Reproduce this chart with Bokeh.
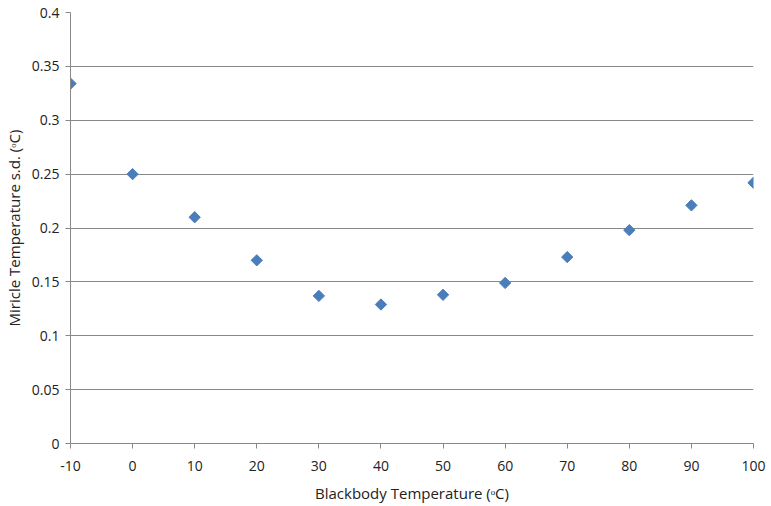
import math
from bokeh.plotting import figure
from bokeh.embed import file_html
from bokeh.resources import INLINE
from bokeh.models import Range1d, FixedTicker

blackbody_temp = [-10, 0, 10, 20, 30, 40, 50, 60, 70, 80, 90, 100]
miricle_sd = [0.334, 0.250, 0.210, 0.170, 0.137, 0.129, 0.138, 0.149, 0.173, 0.198, 0.221, 0.242]
x_ticks = [-10, 0, 10, 20, 30, 40, 50, 60, 70, 80, 90, 100]
y_ticks = [0, 0.05, 0.1, 0.15, 0.2, 0.25, 0.3, 0.35, 0.4]

p = figure(width=769, height=490, output_backend="svg", toolbar_location=None,
           x_range=Range1d(-10, 100), y_range=Range1d(0, 0.4),
           min_border_left=70, min_border_right=16, min_border_top=12, min_border_bottom=47)
p.frame_width = 683
p.frame_height = 431
p.outline_line_color = None
p.background_fill_color = "white"
p.border_fill_color = "white"

p.scatter(blackbody_temp, miricle_sd, marker="square", size=8, angle=math.pi / 4,
          fill_color="#4a7ebb", line_color="#4a7ebb")

font = "Open Sans"
for ax in (p.xaxis[0], p.yaxis[0]):
    ax.axis_line_color = "#888888"
    ax.major_tick_line_color = "#888888"
    ax.minor_tick_line_color = None
    ax.major_tick_in = 0
    ax.major_tick_out = 5
    ax.major_label_text_font = font
    ax.major_label_text_font_size = "14px"
    ax.major_label_text_color = "#222222"
    ax.axis_label_text_font = font
    ax.axis_label_text_font_size = "15px"
    ax.axis_label_text_font_style = "normal"
    ax.axis_label_text_color = "#222222"

p.xaxis.ticker = FixedTicker(ticks=x_ticks)
p.yaxis.ticker = FixedTicker(ticks=y_ticks)
p.xaxis.major_label_overrides = {t: str(t) for t in x_ticks}
p.yaxis.major_label_overrides = {0: "0", 0.05: "0.05", 0.1: "0.1", 0.15: "0.15", 0.2: "0.2",
                                 0.25: "0.25", 0.3: "0.3", 0.35: "0.35", 0.4: "0.4"}
p.xaxis.axis_label = "Blackbody Temperature (ᵒC)"
p.yaxis.axis_label = "Miricle Temperature s.d. (ᵒC)"
p.xaxis.major_label_standoff = 12
p.xaxis.axis_label_standoff = 9
p.yaxis.major_label_standoff = 6
p.yaxis.axis_label_standoff = 5

p.xgrid.grid_line_color = None
p.ygrid.grid_line_color = "#888888"
p.ygrid.ticker = FixedTicker(ticks=y_ticks)

open("out.html", "w").write(file_html(p, INLINE))
